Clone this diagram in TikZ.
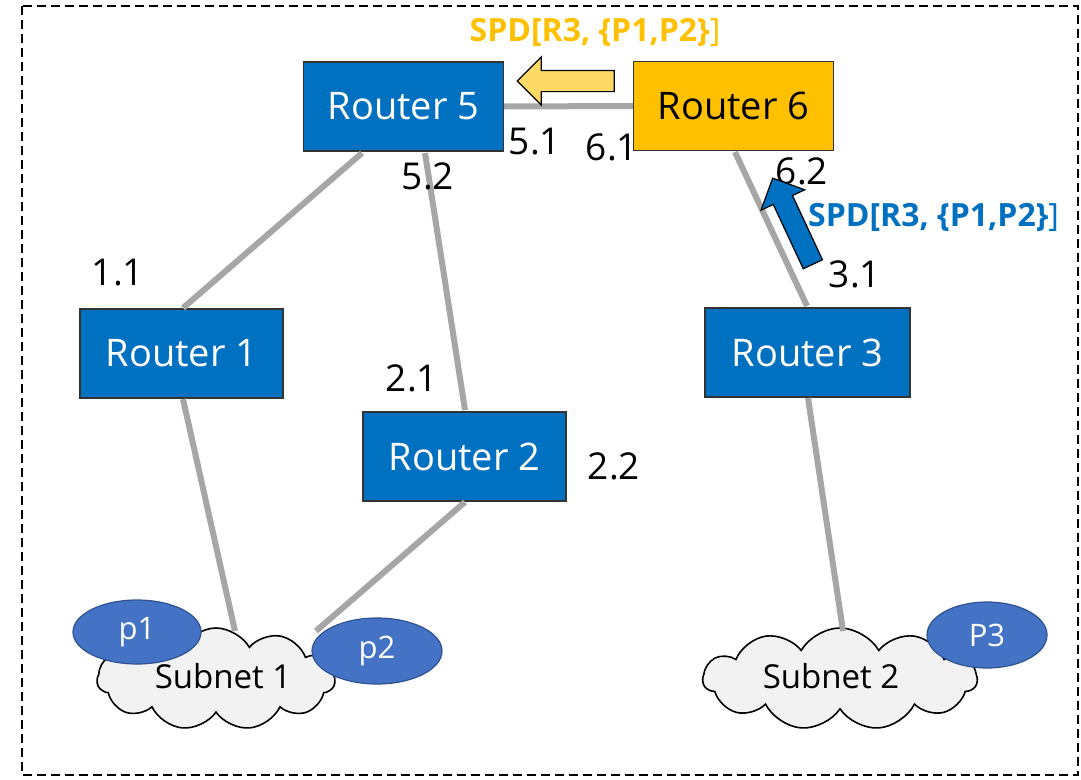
\documentclass[tikz,border=0pt]{standalone}
\usepackage{fontspec}
\setmainfont{Open Sans}
\usetikzlibrary{shapes.symbols,shapes.arrows,shapes.geometric}
\definecolor{rblue}{HTML}{0070C0}
\definecolor{rorange}{HTML}{FFC000}
\definecolor{linkgray}{HTML}{A6A6A6}
\definecolor{pblue}{HTML}{4472C4}
\definecolor{pedge}{HTML}{2F528F}
\definecolor{cloudfill}{HTML}{F2F2F2}
\definecolor{arrowyellow}{HTML}{FFD966}
\tikzset{
  router/.style={draw=black!80, line width=1.2pt, minimum width=200pt, minimum height=89pt,
    inner sep=0pt, font=\fontsize{38}{40}\selectfont},
  link/.style={draw=linkgray, line width=6pt},
  iface/.style={font=\fontsize{37}{40}\selectfont, inner sep=0pt},
  subnet/.style={cloud, cloud puffs=11, cloud puff arc=120, aspect=2.4, draw=black,
    line width=1.6pt, fill=cloudfill, minimum width=238pt, minimum height=102pt,
    inner sep=0pt},
  subnetlabel/.style={font=\fontsize{33}{36}\selectfont, inner sep=0pt},
  pfxnode/.style={ellipse, draw=pedge, line width=1.2pt, fill=pblue, text=white,
    inner sep=0pt, font=\fontsize{31}{33}\selectfont},
  msgarrow/.style={single arrow, draw=black, line width=1.2pt, minimum width=47pt,
    inner sep=10pt, single arrow head extend=13.5pt, single arrow tip angle=90},
  msg/.style={font=\bfseries\fontsize{32}{34}\selectfont, inner sep=0pt}
}
\begin{document}
\begin{tikzpicture}[x=1pt,y=-1pt]
\useasboundingbox (0,0) rectangle (1081,779);
% dashed frame
\draw[line width=2pt, dash pattern=on 9pt off 5pt] (22,6) rectangle (1078,775);

% routers
\node[router, fill=rblue, text=white] (r5) at (403.5,106.5) {Router 5};
\node[router, fill=rorange, text=black] (r6) at (733.5,106) {Router 6};
\node[router, fill=rblue, text=white, minimum width=203pt] (r1) at (181.5,353.5) {Router 1};
\node[router, fill=rblue, text=white, minimum width=203pt] (r2) at (464.5,456.5) {Router 2};
\node[router, fill=rblue, text=white, minimum width=205pt] (r3) at (807.5,352.5) {Router 3};

% subnets
\node[subnet] (s1) at (216,679) {};
\node[subnet, minimum width=274pt] (s2) at (840,679) {};
\node[subnetlabel] (s1t) at (223,676) {Subnet 1};
\node[subnetlabel] (s2t) at (831,676) {Subnet 2};

% links
\coordinate (r5a) at (362,153);
\coordinate (r5b) at (425,153);
\coordinate (r6a) at (735,152);
\coordinate (r1a) at (183,308);
\coordinate (r1b) at (183,399);
\coordinate (r2a) at (465,410);
\coordinate (r2b) at (465,502);
\coordinate (r3a) at (807,306);
\coordinate (r3b) at (808,398);
\coordinate (s1a) at (235,631);
\coordinate (s1b) at (316,631);
\coordinate (s2a) at (843,631);
\draw[link] (r5.east) -- (r6.west);
\draw[link] (r5a) -- (r1a);
\draw[link] (r5b) -- (r2a);
\draw[link] (r6a) -- (r3a);
\draw[link] (r1b) -- (s1a);
\draw[link] (r2b) -- (s1b);
\draw[link] (r3b) -- (s2a);

% prefixes
\node[pfxnode, minimum width=128pt, minimum height=64pt] (p1) at (137,632) {p1};
\node[pfxnode, minimum width=130pt, minimum height=66pt] (p2) at (377,651) {p2};
\node[pfxnode, minimum width=120pt, minimum height=66pt] (p3) at (987,635) {P3};

% interface labels
\node[iface] (l51) at (535,142) {5.1};
\node[iface] (l61) at (612,147) {6.1};
\node[iface] (l52) at (428,176) {5.2};
\node[iface] (l11) at (118,273) {1.1};
\node[iface] (l21) at (412,378) {2.1};
\node[iface] (l22) at (614,466) {2.2};
\node[iface] (l62) at (802,171) {6.2};
\node[iface] (l31) at (855,274) {3.1};

% advertisement messages
\node[msgarrow, fill=arrowyellow, minimum height=97pt, rotate=180] (a1) at (571,81) {};
\node[msg, text=rorange] (m1) at (595,32) {SPD[R3, \{P1,P2\}\mdseries]};
\node[msgarrow, fill=rblue, minimum height=95pt, rotate=115] (a2) at (795,226) {};
\node[msg, text=rblue, anchor=west] (m2) at (808,217) {SPD[R3, \{P1,P2\}\mdseries]};
\end{tikzpicture}
\end{document}
